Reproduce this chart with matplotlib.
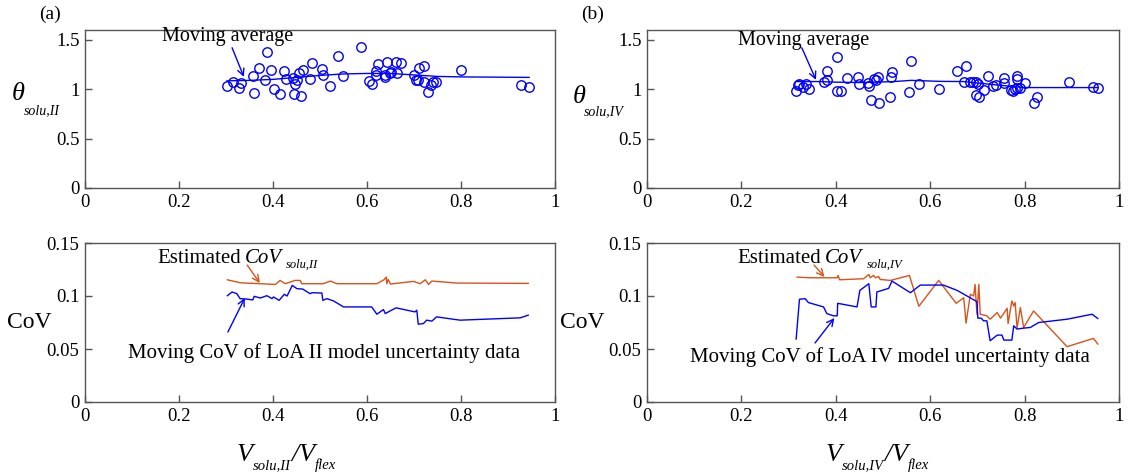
import matplotlib
matplotlib.use("Agg")
import matplotlib.pyplot as plt

plt.rcParams['font.family'] = ['Liberation Serif', 'DejaVu Serif']
plt.rcParams['mathtext.fontset'] = 'stix'

# ---------------- data ----------------
xticks = [0, 0.2, 0.4, 0.6, 0.8, 1]
xtick_labels = ['0', '0.2', '0.4', '0.6', '0.8', '1']
theta_yticks = [0, 0.5, 1, 1.5]
theta_ytick_labels = ['0', '0.5', '1', '1.5']
cov_yticks = [0, 0.05, 0.1, 0.15]
cov_ytick_labels = ['0', '0.05', '0.1', '0.15']

# (a) LoA II model uncertainty
a_x = [0.302, 0.314, 0.327, 0.331, 0.358, 0.359, 0.371, 0.384, 0.387, 0.395,
       0.402, 0.414, 0.424, 0.428, 0.442, 0.444, 0.447, 0.450, 0.455, 0.459,
       0.463, 0.478, 0.483, 0.504, 0.507, 0.522, 0.538, 0.548, 0.588, 0.604,
       0.611, 0.619, 0.620, 0.624, 0.638, 0.639, 0.642, 0.648, 0.652, 0.662,
       0.663, 0.672, 0.701, 0.704, 0.708, 0.710, 0.722, 0.721, 0.729, 0.736,
       0.740, 0.747, 0.799, 0.927, 0.945]
a_theta = [1.034, 1.074, 1.013, 1.067, 1.131, 0.960, 1.219, 1.094, 1.374, 1.199,
           1.000, 0.953, 1.182, 1.101, 1.118, 0.953, 1.054, 1.091, 1.162, 0.929,
           1.192, 1.101, 1.266, 1.209, 1.145, 1.037, 1.333, 1.138, 1.424, 1.084,
           1.057, 1.141, 1.189, 1.259, 1.128, 1.148, 1.276, 1.162, 1.172, 1.273,
           1.162, 1.266, 1.148, 1.094, 1.091, 1.219, 1.232, 1.071, 0.970, 1.044,
           1.074, 1.074, 1.192, 1.040, 1.027]
a_ma_x = [0.302, 0.35, 0.40, 0.45, 0.50, 0.55, 0.60, 0.65, 0.70, 0.75, 0.80, 0.945]
a_ma_y = [1.085, 1.09, 1.10, 1.12, 1.14, 1.155, 1.16, 1.16, 1.145, 1.13, 1.125, 1.12]

a_est_x = [0.303, 0.330, 0.373, 0.405, 0.415, 0.426, 0.447, 0.458, 0.461, 0.507,
           0.522, 0.536, 0.621, 0.636, 0.641, 0.642, 0.645, 0.650, 0.699, 0.713,
           0.724, 0.731, 0.738, 0.791, 0.943]
a_est_cov = [0.1153, 0.1125, 0.1116, 0.1109, 0.1147, 0.1116, 0.1147, 0.1147, 0.1116, 0.1116,
             0.1141, 0.1116, 0.1116, 0.1153, 0.1178, 0.1116, 0.1156, 0.1113, 0.1138, 0.1116,
             0.1153, 0.1109, 0.1141, 0.1122, 0.1119]
a_mov_x = [0.303, 0.313, 0.323, 0.330, 0.342, 0.357, 0.360, 0.373, 0.387, 0.398,
           0.401, 0.413, 0.424, 0.430, 0.441, 0.451, 0.463, 0.479, 0.483, 0.504,
           0.506, 0.515, 0.529, 0.550, 0.610, 0.621, 0.635, 0.639, 0.649, 0.662,
           0.702, 0.706, 0.709, 0.720, 0.727, 0.738, 0.748, 0.798, 0.926, 0.943]
a_mov_cov = [0.1003, 0.1038, 0.1022, 0.0975, 0.0972, 0.0963, 0.0997, 0.0981, 0.1003, 0.0975,
             0.0991, 0.0959, 0.1016, 0.1000, 0.1100, 0.1069, 0.1066, 0.1022, 0.1031, 0.1028,
             0.0959, 0.0975, 0.0953, 0.0897, 0.0897, 0.0828, 0.0872, 0.0834, 0.0859, 0.0888,
             0.0850, 0.0866, 0.0734, 0.0740, 0.0772, 0.0763, 0.0803, 0.0772, 0.0794, 0.0819]

# (b) LoA IV model uncertainty
b_x = [0.316, 0.320, 0.323, 0.330, 0.337, 0.343, 0.376, 0.381, 0.382, 0.403,
       0.403, 0.410, 0.424, 0.446, 0.449, 0.468, 0.471, 0.475, 0.480, 0.485,
       0.490, 0.492, 0.515, 0.516, 0.520, 0.556, 0.559, 0.576, 0.619, 0.657,
       0.672, 0.676, 0.685, 0.691, 0.696, 0.696, 0.702, 0.703, 0.714, 0.722,
       0.732, 0.739, 0.756, 0.756, 0.772, 0.775, 0.779, 0.783, 0.784, 0.783,
       0.790, 0.800, 0.819, 0.826, 0.894, 0.944, 0.955]
b_theta = [0.987, 1.040, 1.054, 1.027, 1.051, 1.003, 1.074, 1.094, 1.185, 1.323,
           0.980, 0.983, 1.118, 1.128, 1.051, 1.061, 1.037, 0.889, 1.108, 1.094,
           1.128, 0.865, 0.923, 1.128, 1.178, 0.973, 1.283, 1.057, 1.007, 1.189,
           1.071, 1.239, 1.071, 1.074, 1.077, 0.939, 1.054, 0.919, 0.993, 1.131,
           1.034, 1.040, 1.118, 1.067, 0.997, 0.987, 1.003, 1.135, 1.104, 1.010,
           1.010, 1.064, 0.865, 0.923, 1.071, 1.020, 1.013]
b_ma_x = [0.318, 0.36, 0.40, 0.45, 0.52, 0.56, 0.62, 0.67, 0.74, 0.80, 0.955]
b_ma_y = [1.078, 1.078, 1.072, 1.068, 1.077, 1.090, 1.080, 1.078, 1.044, 1.017, 1.017]

b_est_x = [0.318, 0.346, 0.367, 0.403, 0.405, 0.408, 0.459, 0.470, 0.473, 0.480,
           0.484, 0.491, 0.494, 0.516, 0.556, 0.576, 0.618, 0.655, 0.671, 0.676,
           0.685, 0.692, 0.695, 0.699, 0.703, 0.706, 0.720, 0.727, 0.742, 0.749,
           0.763, 0.765, 0.773, 0.777, 0.780, 0.784, 0.791, 0.798, 0.819, 0.890,
           0.946, 0.955]
b_est_cov = [0.1178, 0.1172, 0.1172, 0.1172, 0.1194, 0.1153, 0.1163, 0.1203, 0.1172, 0.1194,
             0.1172, 0.1184, 0.1156, 0.1147, 0.1194, 0.0903, 0.1147, 0.0931, 0.0984, 0.0744,
             0.1016, 0.1000, 0.1109, 0.0828, 0.1109, 0.0828, 0.0813, 0.0781, 0.0844, 0.0791,
             0.0884, 0.0740, 0.0953, 0.0906, 0.0938, 0.0697, 0.0891, 0.0703, 0.0859, 0.0522,
             0.0600, 0.0547]
b_mov_x = [0.316, 0.323, 0.335, 0.342, 0.374, 0.381, 0.395, 0.403, 0.404, 0.445,
           0.451, 0.470, 0.475, 0.485, 0.487, 0.512, 0.519, 0.558, 0.579, 0.628,
           0.657, 0.699, 0.701, 0.708, 0.713, 0.720, 0.727, 0.742, 0.752, 0.756,
           0.773, 0.777, 0.784, 0.798, 0.812, 0.830, 0.890, 0.943, 0.955]
b_mov_cov = [0.0594, 0.0969, 0.0975, 0.0938, 0.0897, 0.0834, 0.0813, 0.0813, 0.0931, 0.0897,
             0.1053, 0.1116, 0.0897, 0.0897, 0.1038, 0.1072, 0.1141, 0.1031, 0.1103, 0.1103,
             0.1053, 0.0947, 0.0791, 0.0791, 0.0766, 0.0766, 0.0578, 0.0631, 0.0631, 0.0584,
             0.0584, 0.0719, 0.0688, 0.0697, 0.0703, 0.0750, 0.0781, 0.0828, 0.0788]

BLUE = '#0000FF'
ORANGE = '#D95319'
SPINE = '#555555'

fig = plt.figure(figsize=(11.3, 4.75), dpi=100)
renderer = fig.canvas.get_renderer()

W, H = 1130.0, 475.0
def rect(l, t, r, b):
    return [l / W, 1 - b / H, (r - l) / W, (b - t) / H]

ax_a1 = fig.add_axes(rect(85, 30, 555, 188))
ax_b1 = fig.add_axes(rect(647, 30, 1119, 188))
ax_a2 = fig.add_axes(rect(85, 243, 555, 402))
ax_b2 = fig.add_axes(rect(647, 243, 1119, 402))

def style(ax, yt, ytl, ylim):
    ax.set_xlim(0, 1)
    ax.set_ylim(*ylim)
    ax.set_xticks(xticks)
    ax.set_xticklabels(xtick_labels)
    ax.set_yticks(yt)
    ax.set_yticklabels(ytl)
    ax.tick_params(direction='in', length=5, width=1, color=SPINE, labelsize=13.5, pad=4)
    for s in ax.spines.values():
        s.set_color(SPINE)
        s.set_linewidth(1.0)

style(ax_a1, theta_yticks, theta_ytick_labels, (0, 1.6))
style(ax_b1, theta_yticks, theta_ytick_labels, (0, 1.6))
style(ax_a2, cov_yticks, cov_ytick_labels, (0, 0.15))
style(ax_b2, cov_yticks, cov_ytick_labels, (0, 0.15))


def rich(x0, pieces, ha='left', gaps=None):
    """pieces: (text, fontsize, italic, baseline_y_px); placed one after another."""
    texts = []
    x = x0
    for i, (s, size, italic, yb) in enumerate(pieces):
        t = fig.text(x / W, 1 - yb / H, s, fontsize=size,
                     style='italic' if italic else 'normal', ha='left', va='baseline')
        bb = t.get_window_extent(renderer)
        texts.append((t, x, yb))
        x += bb.width
        if gaps is not None:
            x += gaps[i]
    if ha == 'center':
        shift = (x - x0) / 2.0
        for t, xx, yb in texts:
            t.set_position(((xx - shift) / W, 1 - yb / H))


# scatter + moving average
for ax, x, y, mx, my in [(ax_a1, a_x, a_theta, a_ma_x, a_ma_y),
                         (ax_b1, b_x, b_theta, b_ma_x, b_ma_y)]:
    ax.plot(x, y, 'o', mfc='none', mec=BLUE, ms=6.8, mew=1.0, ls='none')
    ax.plot(mx, my, '-', color=BLUE, lw=1.0)

arrow_b = dict(arrowstyle='->', color=BLUE, lw=1.0, shrinkA=0, shrinkB=0, mutation_scale=12)
arrow_o = dict(arrowstyle='->', color=ORANGE, lw=1.0, shrinkA=0, shrinkB=0, mutation_scale=12)

ax_a1.annotate('', xy=(0.338, 1.125), xytext=(0.313, 1.42), arrowprops=arrow_b)
ax_a1.text(0.304, 1.53, 'Moving average', ha='center', va='center', fontsize=14.5)
ax_b1.annotate('', xy=(0.358, 1.095), xytext=(0.328, 1.42), arrowprops=arrow_b)
ax_b1.text(0.331, 1.49, 'Moving average', ha='center', va='center', fontsize=14.5)

# CoV lines
ax_a2.plot(a_est_x, a_est_cov, '-', color=ORANGE, lw=1.0)
ax_a2.plot(a_mov_x, a_mov_cov, '-', color=BLUE, lw=1.0)
ax_b2.plot(b_est_x, b_est_cov, '-', color=ORANGE, lw=1.0)
ax_b2.plot(b_mov_x, b_mov_cov, '-', color=BLUE, lw=1.0)

ax_a2.annotate('', xy=(0.372, 0.1123), xytext=(0.345, 0.1292), arrowprops=arrow_o)
ax_a2.annotate('', xy=(0.340, 0.0981), xytext=(0.304, 0.066), arrowprops=arrow_b)
ax_a2.text(0.509, 0.0462, 'Moving CoV of LoA II model uncertainty data',
           ha='center', va='center', fontsize=15)

ax_b2.annotate('', xy=(0.376, 0.118), xytext=(0.354, 0.1292), arrowprops=arrow_o)
ax_b2.annotate('', xy=(0.397, 0.0792), xytext=(0.356, 0.0557), arrowprops=arrow_b)
ax_b2.text(0.515, 0.0425, 'Moving CoV of LoA IV model uncertainty data',
           ha='center', va='center', fontsize=15)

rich(157, [('Estimated', 15, False, 263), ('CoV', 15, True, 263),
           ('solu,II', 9, True, 268)], gaps=[4, 4, 0])
rich(737, [('Estimated', 15, False, 263), ('CoV', 15, True, 263),
           ('solu,IV', 9, True, 268)], gaps=[4, 5, 0])

# y labels
rich(12, [('\u03b8', 19, True, 100), ('solu,II', 10, True, 114)], gaps=[-1, 0])
rich(573, [('\u03b8', 19, True, 103), ('solu,IV', 10, True, 115)], gaps=[-2, 0])
fig.text(29 / W, 1 - 322 / H, 'CoV', ha='center', va='center', fontsize=17)
fig.text(582 / W, 1 - 322 / H, 'CoV', ha='center', va='center', fontsize=17)

# x labels
rich(237, [('V', 19, True, 461), ('solu,II', 10.5, True, 469), ('/', 19, True, 461),
           ('V', 19, True, 461), ('flex', 10.5, True, 469)], gaps=[0, 0, 0, 0, 0])
rich(826, [('V', 19, True, 461), ('solu,IV', 10.5, True, 469), ('/', 19, True, 461),
           ('V', 19, True, 461), ('flex', 10.5, True, 469)], gaps=[0, 0, 0, 0, 0])

# panel labels
fig.text(50 / W, 1 - 14 / H, '(a)', ha='center', va='center', fontsize=14)
fig.text(593 / W, 1 - 14 / H, '(b)', ha='center', va='center', fontsize=14)

fig.savefig('out.png', dpi=100)
